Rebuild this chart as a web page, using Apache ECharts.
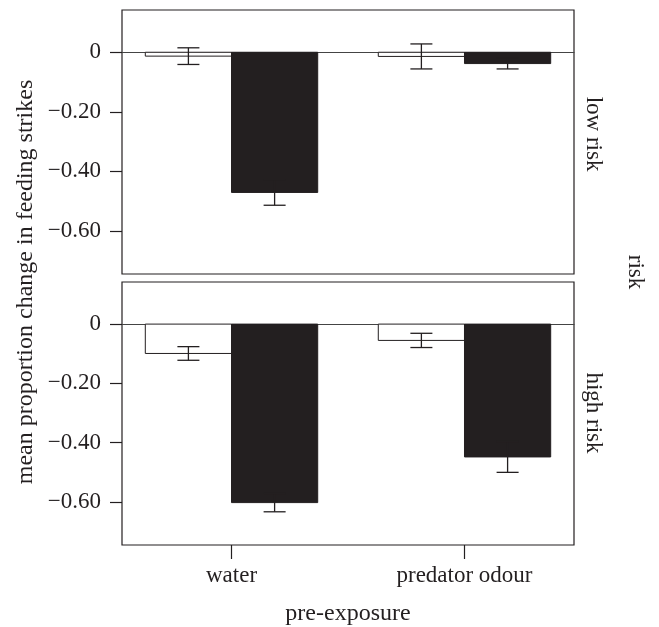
<!DOCTYPE html>
<html>
<head>
<meta charset="utf-8">
<script src="https://cdn.jsdelivr.net/npm/echarts@6/dist/echarts.min.js"></script>
<style>
  html, body { margin: 0; padding: 0; background: #fff; }
  #main { width: 659px; height: 627px; }
</style>
</head>
<body>
<div id="main"></div>
<script>
// categories on the x axis and the two panels
var categories = ['water', 'predator odour'];
var panels = ['low risk', 'high risk'];

// mean proportion change (open bars / filled bars) and their error
var lowOpen = [-0.013, -0.014];
var lowOpenErr = [0.028, 0.042];
var lowFilled = [-0.471, -0.038];
var lowFilledErr = [0.043, 0.018];

var highOpen = [-0.099, -0.055];
var highOpenErr = [0.023, 0.024];
var highFilled = [-0.602, -0.448];
var highFilledErr = [0.031, 0.052];

// y tick values and labels
var yTickValues = [0, -0.2, -0.4, -0.6];
var yTickLabels = ['0', '\u22120.20', '\u22120.40', '\u22120.60'];

var INK = '#231f20';
var FONT = 'Liberation Serif';
var BAR_W = 0.37;

function rows(vals, errs) {
    var out = [];
    for (var i = 0; i < vals.length; i++) {
        out.push([i + 1, vals[i], errs[i]]);
    }
    return out;
}

function makeRender(offset, fill) {
    return function (params, api) {
        var x = api.value(0), v = api.value(1), e = api.value(2);
        var p0 = api.coord([x + offset, 0]);
        var p1 = api.coord([x + offset + BAR_W, v]);
        var cx = api.coord([x + offset + BAR_W / 2, 0])[0];
        var yHi = api.coord([x, v + e])[1];
        var yLo = api.coord([x, v - e])[1];
        var cap = 11;
        var line = { stroke: INK, lineWidth: 1.3 };
        return {
            type: 'group',
            children: [
                {
                    type: 'rect',
                    shape: {
                        x: p0[0], y: Math.min(p0[1], p1[1]),
                        width: p1[0] - p0[0], height: Math.abs(p1[1] - p0[1])
                    },
                    style: { fill: fill, stroke: INK, lineWidth: 1 }
                },
                { type: 'line', shape: { x1: cx, y1: yHi, x2: cx, y2: yLo }, style: line },
                { type: 'line', shape: { x1: cx - cap, y1: yHi, x2: cx + cap, y2: yHi }, style: line },
                { type: 'line', shape: { x1: cx - cap, y1: yLo, x2: cx + cap, y2: yLo }, style: line }
            ]
        };
    };
}

function yAxisFor(idx) {
    return {
        type: 'value',
        gridIndex: idx,
        min: -0.745,
        max: 0.142,
        axisLine: { show: false },
        splitLine: { show: false },
        axisTick: {
            show: true, length: 12, inside: false,
            customValues: yTickValues,
            lineStyle: { color: INK, width: 1.2 }
        },
        axisLabel: {
            customValues: yTickValues,
            margin: 21,
            color: INK,
            fontFamily: FONT,
            fontSize: 23,
            formatter: function (v) {
                for (var i = 0; i < yTickValues.length; i++) {
                    if (Math.abs(yTickValues[i] - v) < 1e-6) return yTickLabels[i];
                }
                return '';
            }
        }
    };
}

function zeroAxisFor(idx) {
    return {
        type: 'value',
        gridIndex: idx,
        min: 0.53,
        max: 2.47,
        axisLine: { show: true, onZero: true, lineStyle: { color: '#444', width: 1.2 } },
        axisTick: { show: false },
        axisLabel: { show: false },
        splitLine: { show: false }
    };
}

var myChart = echarts.init(document.getElementById('main'));

var option = {
    backgroundColor: '#fff',
    animation: false,
    grid: [
        { left: 122, top: 10, width: 452, height: 264, show: true, borderColor: INK, borderWidth: 1.2 },
        { left: 122, top: 282, width: 452, height: 263, show: true, borderColor: INK, borderWidth: 1.2 }
    ],
    xAxis: [
        zeroAxisFor(0),
        zeroAxisFor(1),
        {
            type: 'value',
            gridIndex: 1,
            position: 'bottom',
            min: 0.53,
            max: 2.47,
            axisLine: { show: false, onZero: false },
            splitLine: { show: false },
            axisTick: {
                show: true, length: 14, inside: false,
                customValues: [1, 2],
                lineStyle: { color: INK, width: 1.2 }
            },
            axisLabel: {
                customValues: [1, 2],
                margin: 19,
                color: INK,
                fontFamily: FONT,
                fontSize: 23,
                formatter: function (v) { return categories[Math.round(v) - 1] || ''; }
            },
            name: 'pre-exposure',
            nameLocation: 'middle',
            nameGap: 57,
            nameTextStyle: { color: INK, fontFamily: FONT, fontSize: 24 }
        }
    ],
    yAxis: [yAxisFor(0), yAxisFor(1)],
    graphic: [
        {
            type: 'text', x: 26, y: 282, rotation: Math.PI / 2,
            style: {
                text: 'mean proportion change in feeding strikes',
                fill: INK, font: '24px "Liberation Serif"',
                align: 'center', verticalAlign: 'middle'
            }
        },
        {
            type: 'text', x: 593, y: 134, rotation: -Math.PI / 2,
            style: { text: panels[0], fill: INK, font: '23px "Liberation Serif"', align: 'center', verticalAlign: 'middle' }
        },
        {
            type: 'text', x: 593, y: 413, rotation: -Math.PI / 2,
            style: { text: panels[1], fill: INK, font: '23px "Liberation Serif"', align: 'center', verticalAlign: 'middle' }
        },
        {
            type: 'text', x: 635, y: 272, rotation: -Math.PI / 2,
            style: { text: 'risk', fill: INK, font: '23px "Liberation Serif"', align: 'center', verticalAlign: 'middle' }
        }
    ],
    series: [
        {
            name: panels[0] + ' open', type: 'custom', xAxisIndex: 0, yAxisIndex: 0,
            renderItem: makeRender(-BAR_W, '#fff'), data: rows(lowOpen, lowOpenErr)
        },
        {
            name: panels[0] + ' filled', type: 'custom', xAxisIndex: 0, yAxisIndex: 0,
            renderItem: makeRender(0, INK), data: rows(lowFilled, lowFilledErr)
        },
        {
            name: panels[1] + ' open', type: 'custom', xAxisIndex: 1, yAxisIndex: 1,
            renderItem: makeRender(-BAR_W, '#fff'), data: rows(highOpen, highOpenErr)
        },
        {
            name: panels[1] + ' filled', type: 'custom', xAxisIndex: 1, yAxisIndex: 1,
            renderItem: makeRender(0, INK), data: rows(highFilled, highFilledErr)
        }
    ]
};

myChart.setOption(option);
window.addEventListener("resize", function () {
    myChart.resize();
});
</script>
</body>
</html>
